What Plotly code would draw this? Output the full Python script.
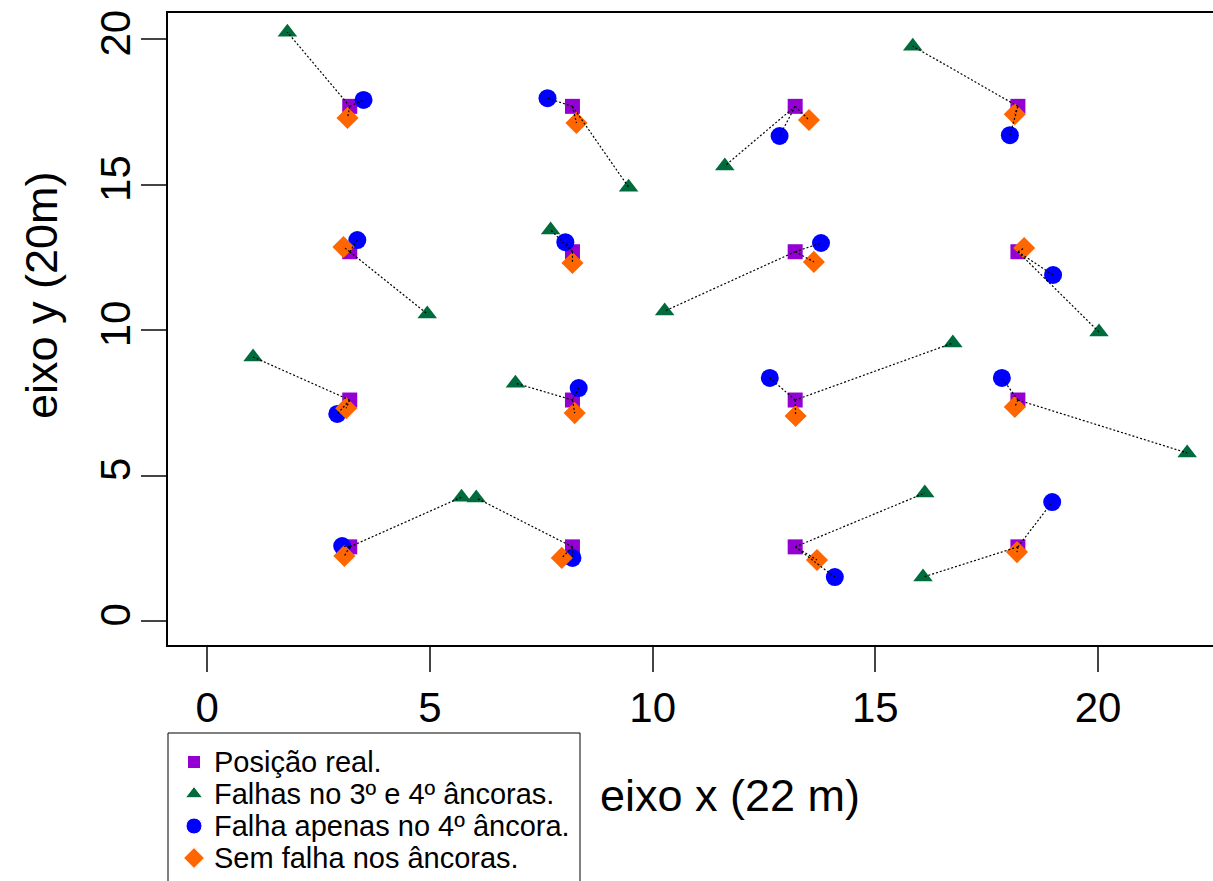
import plotly.graph_objects as go

# Real positions (squares)
real_x = [3.2, 8.2, 13.2, 18.2, 3.2, 8.2, 13.2, 18.2, 3.2, 8.2, 13.2, 18.2, 3.2, 8.2, 13.2, 18.2]
real_y = [17.7, 17.7, 17.7, 17.7, 12.7, 12.7, 12.7, 12.7, 7.6, 7.6, 7.6, 7.6, 2.55, 2.55, 2.55, 2.55]

# Failures on 3rd and 4th anchors (triangles)
tri_x = [1.80, 9.46, 11.62, 15.84, 4.94, 7.71, 10.27, 20.02, 1.03, 6.92, 16.74, 22.0, 5.71, 6.04, 16.11, 16.07]
tri_y = [20.25, 14.92, 15.65, 19.77, 10.56, 13.45, 10.66, 9.94, 9.08, 8.18, 9.56, 5.78, 4.26, 4.23, 4.40, 1.51]

# Failure only on 4th anchor (circles)
cir_x = [3.51, 7.64, 12.85, 18.02, 3.37, 8.04, 13.78, 18.99, 2.92, 8.34, 12.63, 17.84, 3.03, 8.20, 14.09, 18.97]
cir_y = [17.92, 17.98, 16.68, 16.71, 13.10, 13.03, 13.00, 11.90, 7.12, 8.01, 8.36, 8.36, 2.58, 2.17, 1.51, 4.09]

# No anchor failure (diamonds)
dia_x = [3.15, 8.29, 13.51, 18.13, 3.06, 8.20, 13.62, 18.34, 3.12, 8.25, 13.21, 18.13, 3.08, 7.96, 13.69, 18.18]
dia_y = [17.30, 17.13, 17.23, 17.43, 12.86, 12.31, 12.35, 12.83, 7.32, 7.15, 7.05, 7.36, 2.24, 2.17, 2.10, 2.37]

labels = ["Posição real.", "Falhas no 3º e 4º âncoras.",
          "Falha apenas no 4º âncora.", "Sem falha nos âncoras."]
x_ticks = [0, 5, 10, 15, 20]
y_ticks = [0, 5, 10, 15, 20]

PURPLE = "#9400D3"
GREEN = "#006B3C"
BLUE = "#0000FF"
ORANGE = "#FF6600"
FONT = "Liberation Sans, Arial, sans-serif"

symbols = ["square", "triangle-up", "circle", "diamond"]
colors = [PURPLE, GREEN, BLUE, ORANGE]
key_sizes = [13, 15, 16, 16]

W, H = 1213, 881
# plot box in pixels
PL, PT, PR, PB = 168, 13, 1213, 645

def fx(p):
    return p / W

def fy(p):
    return 1 - p / H

# connecting segments
lx, ly = [], []
for i in range(len(real_x)):
    for ex, ey in ((tri_x[i], tri_y[i]), (cir_x[i], cir_y[i]), (dia_x[i], dia_y[i])):
        lx += [real_x[i], ex, None]
        ly += [real_y[i], ey, None]

fig = go.Figure()
fig.add_trace(go.Scatter(x=tri_x, y=tri_y, mode="markers", name=labels[1], showlegend=False,
                         marker=dict(symbol="triangle-up", size=17, color=GREEN, opacity=1)))
fig.add_trace(go.Scatter(x=real_x, y=real_y, mode="markers", name=labels[0], showlegend=False,
                         marker=dict(symbol="square", size=15, color=PURPLE, opacity=1)))
fig.add_trace(go.Scatter(x=cir_x, y=cir_y, mode="markers", name=labels[2], showlegend=False,
                         marker=dict(symbol="circle", size=18, color=BLUE, opacity=1)))
fig.add_trace(go.Scatter(x=dia_x, y=dia_y, mode="markers", name=labels[3], showlegend=False,
                         marker=dict(symbol="diamond", size=17, color=ORANGE, opacity=1)))
fig.add_trace(go.Scatter(x=lx, y=ly, mode="lines", showlegend=False, hoverinfo="skip",
                         line=dict(color="black", width=1.2, dash="2px,2px")))

# Manual legend: keys drawn on a pixel-space helper axis placed in the legend area
leg_left, leg_top, leg_right = 168, 733, 580
key_x = 194
row_y = [762, 794, 826, 858]
text_x = 212
LEG_AX_TOP = 700

fig.add_trace(go.Scatter(
    x=[key_x] * 4, y=row_y, xaxis="x2", yaxis="y2", mode="markers",
    showlegend=False, hoverinfo="skip", cliponaxis=False,
    marker=dict(symbol=symbols, size=key_sizes, color=colors, opacity=1)))

shapes = [dict(type="rect", xref="paper", yref="paper",
               x0=fx(leg_left), x1=fx(leg_right), y0=fy(H + 20), y1=fy(leg_top),
               line=dict(color="black", width=1), fillcolor="white", layer="below")]

annotations = [
    dict(text="eixo x (22 m)", xref="paper", yref="paper",
         x=fx(730), y=fy(795), xanchor="center", yanchor="middle", showarrow=False,
         font=dict(size=45, family=FONT)),
    dict(text="eixo y (20m)", xref="paper", yref="paper", textangle=-90,
         x=fx(42), y=fy(295), xanchor="center", yanchor="middle", showarrow=False,
         font=dict(size=45, family=FONT)),
]
for lab, yy in zip(labels, row_y):
    annotations.append(dict(text=lab, xref="paper", yref="paper", x=fx(text_x), y=fy(yy),
                            xanchor="left", yanchor="middle", showarrow=False,
                            font=dict(size=29, family=FONT)))

fig.update_layout(
    width=W, height=H,
    margin=dict(l=0, r=0, t=0, b=0, autoexpand=False),
    plot_bgcolor="rgba(0,0,0,0)", paper_bgcolor="white",
    font=dict(family=FONT, color="black"),
    showlegend=False,
    xaxis=dict(domain=[fx(PL), fx(PR)], anchor="y",
               range=[-0.88, 22.58], tickvals=x_ticks, ticks="outside", ticklen=25,
               tickwidth=2, showline=True, linewidth=2, linecolor="black", mirror=True,
               showgrid=False, zeroline=False, tickfont=dict(size=42, family=FONT)),
    yaxis=dict(domain=[fy(PB), fy(PT)], anchor="x",
               range=[-0.825, 20.91], tickvals=y_ticks, ticks="outside", ticklen=25,
               tickwidth=2, showline=True, linewidth=2, linecolor="black", mirror=False,
               showgrid=False, zeroline=False, tickangle=-90, ticklabelstandoff=-6,
               tickfont=dict(size=42, family=FONT)),
    xaxis2=dict(domain=[0, fx(leg_right)], range=[0, leg_right], anchor="y2",
                visible=False, fixedrange=True),
    yaxis2=dict(domain=[0, fy(LEG_AX_TOP)], range=[H, LEG_AX_TOP], anchor="x2",
                visible=False, fixedrange=True),
    shapes=shapes,
    annotations=annotations,
)

fig.write_html("out.html")
